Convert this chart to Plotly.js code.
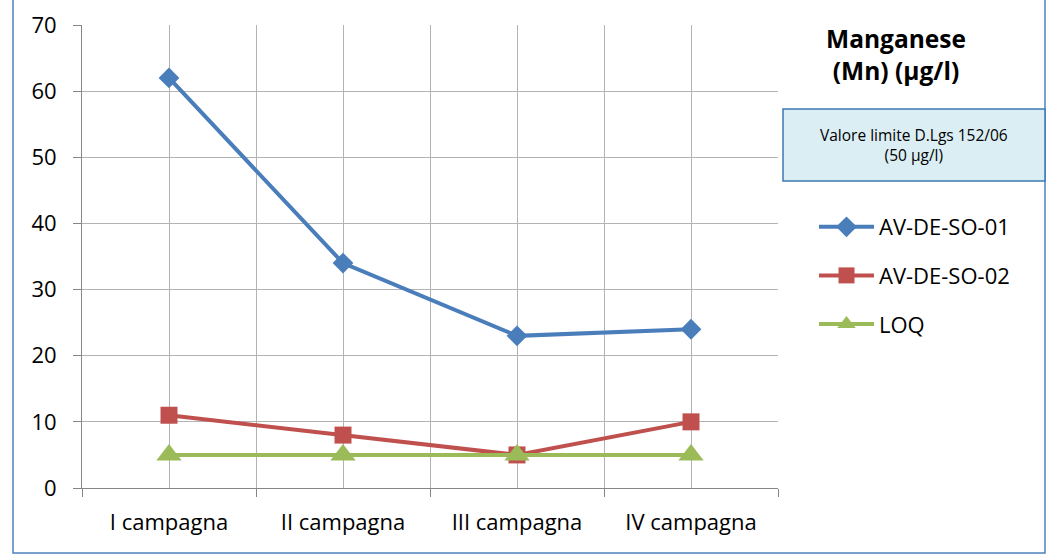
<!DOCTYPE html>
<html>
<head>
<meta charset="utf-8">
<script src="https://cdn.plot.ly/plotly-3.0.1.min.js"></script>
<style>html,body{margin:0;padding:0;background:#fff;}#chart{width:1060px;height:556px;}</style>
</head>
<body>
<div id="chart"></div>
<script>
const categories = ["I campagna", "II campagna", "III campagna", "IV campagna"];
const seriesNames = ["AV-DE-SO-01", "AV-DE-SO-02", "LOQ"];
const so01 = [62, 34, 23, 24];
const so02 = [11, 8, 5, 10];
const loq = [5, 5, 5, 5];
const yTicks = [0, 10, 20, 30, 40, 50, 60, 70];
const titleText = "Manganese<br>(Mn) (µg/l)";
const boxText = "Valore limite D.Lgs 152/06<br>(50 µg/l)";

const FONT = "'Open Sans', Lato, sans-serif";
const colors = ["#4a7ebb", "#c0504d", "#9bbb59"];
const symbols = ["diamond", "square", "triangle-up"];
const sizes = [16, 17, 22];
const allData = [so01, so02, loq];

const traces = allData.map((vals, i) => ({
  type: "scatter", mode: "lines+markers",
  x: categories, y: vals, name: seriesNames[i],
  legendgroup: "g" + i,
  line: {color: colors[i], width: 4},
  marker: {color: colors[i], symbol: symbols[i], size: sizes[i], line: {width: 0}},
  cliponaxis: false
}));
// helper trace for category-center gridlines
traces.unshift({type: "scatter", x: categories, y: loq, xaxis: "x2", mode: "none", showlegend: false, hoverinfo: "skip"});

// plot area geometry in px (for paper-relative decorations)
const L = 82, R = 778, T = 25, B = 488;
const px = v => (v - L) / (R - L);
const py = v => (B - v) / (B - T);

const layout = {
  width: 1060, height: 556,
  margin: {l: L, r: 1060 - R, t: T, b: 556 - B},
  paper_bgcolor: "#fff", plot_bgcolor: "#fff",
  font: {family: FONT, size: 22, color: "#000"},
  showlegend: true,
  title: {
    text: titleText, xref: "container", yref: "container",
    x: 896 / 1060, xanchor: "center", y: 1 - 48 / 556, yanchor: "top",
    font: {family: FONT, size: 24.5, color: "#000", weight: "bold"}
  },
  xaxis: {
    type: "category", range: [-0.5, 3.5],
    tickson: "boundaries", ticks: "outside", ticklen: 8, tickcolor: "#868686",
    showgrid: true, gridcolor: "#b3b3b3", gridwidth: 1,
    showline: true, linecolor: "#868686", linewidth: 1,
    tickfont: {family: FONT, size: 22, color: "#000"},
    ticklabelstandoff: 15, zeroline: false, fixedrange: true
  },
  xaxis2: {
    type: "category", range: [-0.5, 3.5], overlaying: "x",
    showgrid: true, gridcolor: "#b3b3b3", gridwidth: 1,
    showticklabels: false, ticks: "", showline: false, zeroline: false
  },
  yaxis: {
    range: [0, 70], tickvals: yTicks, ticks: "outside", ticklen: 8, tickcolor: "#868686",
    showgrid: true, gridcolor: "#b3b3b3", gridwidth: 1,
    showline: true, linecolor: "#868686", linewidth: 1,
    zeroline: false, tickfont: {family: FONT, size: 22, color: "#000"},
    ticklabelstandoff: 12, fixedrange: true
  },
  legend: {
    x: px(814), xanchor: "left", y: py(206), yanchor: "top",
    font: {family: FONT, size: 22, color: "#000"},
    tracegroupgap: 17, itemwidth: 55, bgcolor: "rgba(0,0,0,0)"
  },
  shapes: [
    {type: "rect", xref: "paper", yref: "paper", x0: px(783), x1: px(1045), y0: py(181), y1: py(109),
      fillcolor: "#dbeef4", line: {color: "#3c78b4", width: 1.5}, layer: "above"},
    {type: "rect", xref: "paper", yref: "paper", x0: px(13), x1: px(1045), y0: py(553), y1: py(-5),
      fillcolor: "rgba(0,0,0,0)", line: {color: "#4f81bd", width: 1.5}, layer: "below"}
  ],
  annotations: [
    {text: boxText, xref: "paper", yref: "paper", x: px(914), y: py(145), xanchor: "center", yanchor: "middle",
      showarrow: false, align: "center", font: {family: FONT, size: 15.5, color: "#000"}}
  ]
};

Plotly.newPlot("chart", traces, layout, {displayModeBar: false, staticPlot: true});
</script>
</body>
</html>
